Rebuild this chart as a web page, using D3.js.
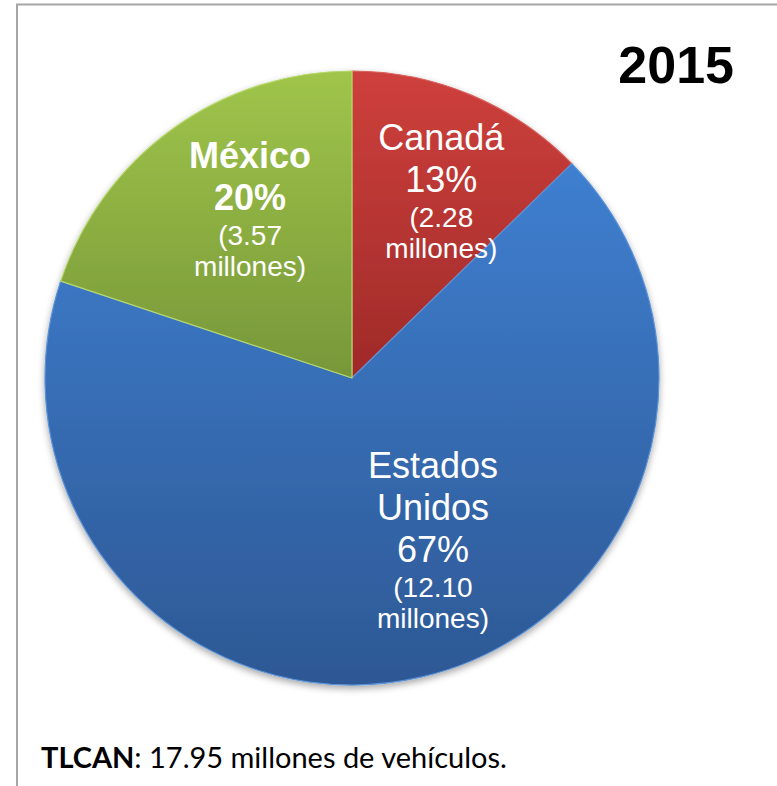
<!DOCTYPE html>
<html>
<head>
<meta charset="utf-8">
<script src="https://cdn.jsdelivr.net/npm/d3@7"></script>
<style>
    html, body { margin: 0; padding: 0; background: #fff; }
    svg { display: block; }
</style>
</head>
<body>
<div id="chart"></div>
<script>
// data
const year = '2015';
const countries = ['Canadá', 'Estados Unidos', 'México'];
const vehicles = [2.28, 12.10, 3.57];          // millones
const total_label = 'TLCAN';
const total_text = ': 17.95 millones de vehículos.';

const width = 777;
const height = 786;
const cx = 352;
const cy = 378;
const radius = 307;

// [top, bottom] of each slice gradient
const slice_colors = {
    'Canadá': ['#ce403c', '#9f2a29', '#d9615d'],
    'Estados Unidos': ['#3f7fd0', '#2d5894', '#5a92d8'],
    'México': ['#a0c54a', '#779739', '#b7d86b']
};
// move the label block from the arc centroid to the first baseline
const label_nudge = {
    'Canadá': [13, -47],
    'Estados Unidos': [37, -91],
    'México': [13, -51]
};
const bold_names = ['México'];

const big_size = 36;
const small_size = 28;

const svg = d3.select('#chart').append('svg')
    .attr('width', width)
    .attr('height', height);

const defs = svg.append('defs');

const shadow = defs.append('filter').attr('id', 'shadow')
    .attr('x', '-10%').attr('y', '-10%').attr('width', '120%').attr('height', '120%');
shadow.append('feDropShadow')
    .attr('dx', 0).attr('dy', 3)
    .attr('stdDeviation', 3.5)
    .attr('flood-color', '#000')
    .attr('flood-opacity', 0.35);

countries.forEach((c, i) => {
    const g = defs.append('linearGradient')
        .attr('id', `grad-${i}`)
        .attr('x1', 0).attr('y1', 0).attr('x2', 0).attr('y2', 1);
    g.append('stop').attr('offset', '0%').attr('stop-color', slice_colors[c][0]);
    g.append('stop').attr('offset', '100%').attr('stop-color', slice_colors[c][1]);
});

// frame
svg.append('path')
    .attr('d', `M17,${height} L17,4.5 L${width},4.5`)
    .attr('fill', 'none')
    .attr('stroke', '#a6a6a6')
    .attr('stroke-width', 2);

const total = d3.sum(vehicles);
const pie = d3.pie().sort(null).value(d => d.value);
const slices = pie(countries.map((c, i) => ({name: c, value: vehicles[i], i})));

const arc = d3.arc().innerRadius(0).outerRadius(radius);
const label_arc = d3.arc().innerRadius(radius * 0.64).outerRadius(radius * 0.64);

const pie_g = svg.append('g')
    .attr('transform', `translate(${cx},${cy})`);

pie_g.append('g').attr('filter', 'url(#shadow)')
    .selectAll('path')
    .data(slices)
    .join('path')
    .attr('d', arc)
    .attr('fill', d => `url(#grad-${d.data.i})`)
    .attr('stroke', d => slice_colors[d.data.name][2])
    .attr('stroke-width', 1.2)
    .attr('stroke-linejoin', 'round');

const pct = v => `${Math.round(v / total * 100)}%`;
const fmt = d3.format('.2f');

slices.forEach(d => {
    const name = d.data.name;
    const bold = bold_names.includes(name);
    const lines = name.split(' ').map(t => ({t, size: big_size, bold}));
    lines.push({t: pct(d.data.value), size: big_size, bold});
    lines.push({t: `(${fmt(d.data.value)}`, size: small_size, bold: false});
    lines.push({t: 'millones)', size: small_size, bold: false});

    const [x0, y0] = label_arc.centroid(d);
    const [nx, ny] = label_nudge[name];
    let y = y0 + ny;
    const text = pie_g.append('text')
        .attr('text-anchor', 'middle')
        .attr('fill', '#fff')
        .style('font-family', '"Liberation Sans", Arial, sans-serif');
    lines.forEach((l, k) => {
        if (k > 0) {
            const prev = lines[k - 1];
            if (prev.size === big_size && l.size === big_size) y += 42;
            else if (prev.size === big_size) y += 35;
            else y += 31;
        }
        text.append('tspan')
            .attr('x', x0 + nx)
            .attr('y', y)
            .style('font-size', `${l.size}px`)
            .style('font-weight', l.bold ? 'bold' : 'normal')
            .text(l.t);
    });
});

// year title
svg.append('text')
    .attr('x', 734)
    .attr('y', 83)
    .attr('text-anchor', 'end')
    .style('font-family', '"Liberation Sans", Arial, sans-serif')
    .style('font-size', '52px')
    .style('font-weight', 'bold')
    .text(year);

// note under the chart, sized to the original line width
const note = svg.append('text')
    .attr('x', 41)
    .attr('y', 768)
    .attr('fill', '#000')
    .style('font-family', 'Lato, "Open Sans", sans-serif')
    .style('font-size', '26px');
note.append('tspan').style('font-weight', 'bold').text(total_label);
note.append('tspan').text(total_text);
const note_len = note.node().getComputedTextLength();
note.style('font-size', `${26 * 466 / note_len}px`);
</script>
</body>
</html>
